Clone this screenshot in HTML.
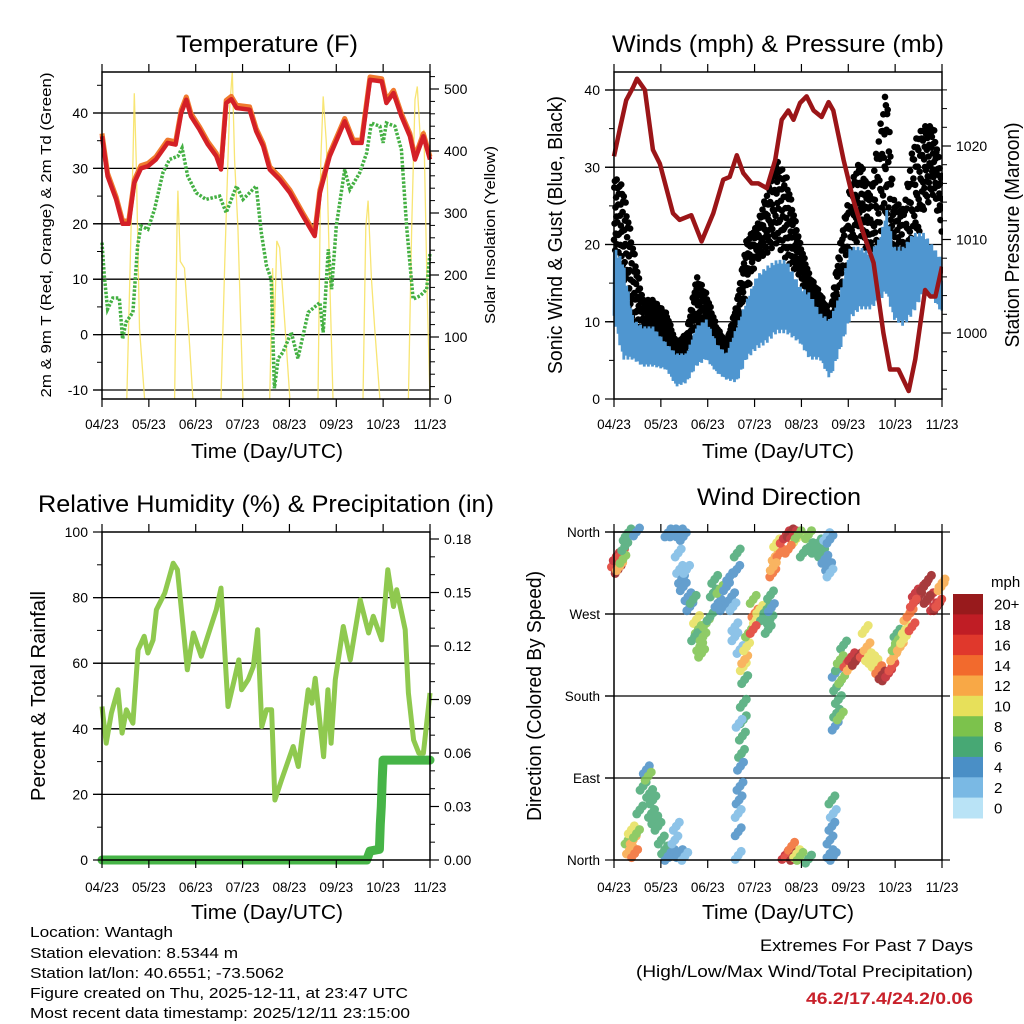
<!DOCTYPE html>
<html><head><meta charset="utf-8"><style>
body{margin:0;background:#fff}
svg{display:block;font-family:"Liberation Sans",Arial,sans-serif}
</style></head><body>
<svg id="fig" width="1024" height="1024" viewBox="0 0 1024 1024" xmlns="http://www.w3.org/2000/svg">
<rect width="1024" height="1024" fill="#fff"/>
<g id="root"></g>
<g font-size="15" fill="#000">
<text x="30" y="937" textLength="143" lengthAdjust="spacingAndGlyphs">Location: Wantagh</text>
<text x="30" y="958" textLength="208" lengthAdjust="spacingAndGlyphs">Station elevation: 8.5344 m</text>
<text x="30" y="978" textLength="254" lengthAdjust="spacingAndGlyphs">Station lat/lon: 40.6551; -73.5062</text>
<text x="30" y="998" textLength="378" lengthAdjust="spacingAndGlyphs">Figure created on Thu, 2025-12-11, at 23:47 UTC</text>
<text x="30" y="1018" textLength="380" lengthAdjust="spacingAndGlyphs">Most recent data timestamp: 2025/12/11 23:15:00</text>
</g>
<g font-size="17">
<text x="760" y="951" textLength="213" lengthAdjust="spacingAndGlyphs">Extremes For Past 7 Days</text>
<text x="636" y="977" textLength="337" lengthAdjust="spacingAndGlyphs">(High/Low/Max Wind/Total Precipitation)</text>
<text x="806" y="1004" textLength="167" lengthAdjust="spacingAndGlyphs" fill="#c8202a" font-weight="bold">46.2/17.4/24.2/0.06</text>
</g>
</svg>
<script>
// ---------- DATA ----------
const dayLabels = ["04/23","05/23","06/23","07/23","08/23","09/23","10/23","11/23"];
// Temperature (F), time in days
const tempT = [0,.12,.30,.44,.57,.69,.83,.98,1.15,1.40,1.57,1.69,1.80,1.90,2.08,2.26,2.44,2.54,2.65,2.76,2.87,3.15,3.29,3.44,3.58,3.79,4.01,4.29,4.54,4.65,4.86,5.18,5.36,5.54,5.72,5.97,6.07,6.22,6.39,6.57,6.68,6.86,7];
const tempV = [35.8,28.6,24.4,20,20,27.4,30,30.4,31.6,34.6,34.3,40,42.4,39.4,37,34.3,32.2,29.8,41.8,42.5,40.9,40.6,36.7,34,29.8,28,25.6,21.4,17.8,25.6,32.2,38.5,34.6,34.6,46,45.7,41.8,43.6,39.4,35.8,31.6,35.8,31.6];
const dewT = [0,.05,.12,.23,.37,.44,.51,.66,.76,.83,.98,1.12,1.30,1.44,1.62,1.71,1.83,2.01,2.22,2.51,2.65,2.87,3.01,3.29,3.40,3.51,3.61,3.68,3.76,3.86,4.04,4.18,4.40,4.65,4.72,4.83,4.90,5.00,5.18,5.29,5.50,5.65,5.75,5.93,6.00,6.07,6.25,6.39,6.50,6.64,6.79,6.93,7];
const dewV = [16.6,10.6,4.6,6.6,6.6,-0.8,2.2,4,16,19.6,19,22.6,29.2,31.6,32.2,33.7,28.6,25.6,24.4,25,22,26.8,24.4,26.8,18.4,12.4,10,-9.7,-4.3,-3.2,0.4,-4.3,4,5.8,0.4,15.4,8.2,19.6,29.8,26.2,29.2,32.8,38.2,37.6,34.6,38.2,37.6,33.4,19.6,6.4,7,8.2,14.8];
// Solar insolation (W/m2); null breaks the line between days
const solarT = [.53,.62,.66,.69,.73,.80,.91,null,1.55,1.60,1.62,1.67,1.76,1.87,1.94,null,2.54,2.62,2.72,2.78,2.83,2.90,3.01,null,3.58,3.64,3.68,3.73,3.79,3.86,4.01,null,4.61,4.67,4.72,4.79,4.86,4.93,null,5.57,5.63,5.68,5.75,5.82,5.93,null,6.54,6.61,6.68,6.73,6.80,6.87,6.94,7.0];
const solarV = [0,277,380,493,385,114,0,null,0,277,336,222,211,87,0,null,0,222,466,528,385,277,0,null,0,211,114,255,244,168,0,null,0,385,488,412,195,0,null,0,277,320,195,114,0,null,0,277,483,504,412,434,168,0];
// Winds (mph) & pressure (mb)
const windT = [0,.19,.41,.62,.83,1.12,1.33,1.55,1.76,1.97,2.19,2.40,2.62,2.83,3.04,3.26,3.47,3.68,3.97,4.18,4.40,4.61,4.83,5.04,5.25,5.47,5.68,5.82,5.97,6.18,6.39,6.61,6.82,7];
const windLow = [10.3,5.1,5.1,4.2,4.2,3.8,1.6,2.1,4.2,5.1,3.4,2.5,2.1,5.1,6.4,7.2,8.5,8.5,7.2,5.1,5.1,2.5,6.4,10.3,11.6,11.6,12.8,13.7,10.3,9.4,11.1,13.7,12.8,11.1];
const windHigh = [19.7,18,10.3,9.4,9.4,7.2,5.9,5.9,9.4,10.3,7.2,5.9,9.4,12.8,15.9,17.2,18,18,14.6,13.7,11.1,10.3,13.7,19.7,19.7,18.9,21,24.5,19.7,19.7,21.5,21.5,19.7,18];
const gustLow = [19.7,16.3,8.5,8.1,9.4,7.2,5.1,5.9,9.4,8.5,5.9,5.9,9.4,13.7,18,18.9,20.2,18,15.9,12,9.4,7.2,13.7,18,21.5,18,18.9,22.3,17.2,15.9,18,24.5,26.6,21.5];
const gustHigh = [28.8,27.5,19.7,12.8,12.8,11.1,7.2,8.5,15.9,13.7,9.4,7.2,12.4,20.6,22.3,26.6,30.9,28.8,20.2,15.9,13.7,11.1,20.2,27.5,30.9,26.6,35.3,40.4,25.8,24.5,33.1,35.3,35.3,28.8];
const presT = [0,.12,.26,.41,.49,.66,.83,.98,1.26,1.40,1.65,1.87,2.12,2.33,2.47,2.62,2.76,2.94,3.08,3.26,3.44,3.58,3.72,3.83,3.97,4.11,4.26,4.43,4.58,4.68,4.90,5.11,5.32,5.54,5.75,5.89,6.07,6.29,6.43,6.64,6.75,6.86,7];
const presV = [1018.9,1021.7,1024.9,1026.3,1027.2,1026,1019.6,1018.1,1012.8,1012.1,1012.6,1009.8,1012.8,1016.4,1016.7,1019,1017.1,1016,1016,1015.5,1018.5,1022.8,1023.8,1022.8,1024.6,1025.3,1023.8,1023.1,1024.7,1023.8,1018.5,1014.2,1010.7,1007.5,1000,996.1,996.1,993.8,997.2,1004.6,1003.9,1003.9,1007.1];
// Relative humidity (%) & precipitation (in)
const rhT = [0,.09,.20,.34,.43,.52,.66,.77,.90,.98,1.09,1.16,1.34,1.52,1.61,1.73,1.82,1.95,2.12,2.30,2.44,2.54,2.69,2.84,2.92,2.98,3.12,3.23,3.32,3.41,3.51,3.62,3.69,3.83,4.08,4.19,4.30,4.40,4.48,4.55,4.73,4.82,4.89,4.98,5.15,5.30,5.51,5.69,5.79,5.97,6.10,6.22,6.29,6.47,6.54,6.65,6.76,6.86,7];
const rhV = [46.8,35.6,44.8,51.9,38.7,45.8,41.7,64.1,68.2,63.1,67.1,76.3,81.4,90.5,88.5,71.2,58,69.2,62.1,70.2,76.3,82.9,46.8,56,61,51.9,55,59,70.2,40.7,45.8,45.8,18.3,24.4,34.6,28.5,40.7,51.9,47.8,55.4,31.5,51.9,35.6,55,71.2,61,79.3,69.2,74.3,67.1,88.5,77.3,82.4,70.2,50.9,36.6,32.6,32.6,50.9];
const precipT = [0,5.65,5.72,5.92,5.94,5.96,5.98,6.0,7];
const precipV = [0,0,0.005,0.006,0.02,0.03,0.045,0.056,0.056];
// Wind direction (deg), speed (mph)
const dirT = [.01,.05,.09,.12,.16,.19,.23,.26,.30,.48,.30,.33,.37,.41,.44,.48,.55,.62,.69,.73,.76,.80,.83,.87,.94,1.01,1.08,1.15,1.23,1.30,1.33,1.40,1.51,1.15,1.26,1.40,1.48,1.37,1.40,1.44,1.48,1.55,1.58,1.62,1.69,1.76,1.80,1.72,1.83,1.90,1.97,2.05,1.87,2.12,2.15,2.22,2.26,2.33,2.40,2.47,2.51,2.54,2.62,2.58,2.58,2.63,2.69,2.76,2.79,2.83,2.87,2.79,2.76,2.76,2.67,2.74,2.72,2.70,2.69,2.67,2.65,2.65,2.65,2.97,3.01,3.04,3.11,3.19,3.26,3.33,3.29,3.34,2.97,3.36,3.39,3.44,3.47,3.54,3.61,3.68,3.76,3.83,3.90,3.93,3.72,3.40,4.04,4.15,4.18,4.29,4.36,4.43,4.50,4.54,4.61,4.58,4.61,3.65,3.72,3.79,3.83,3.90,3.97,4.15,4.68,4.65,4.61,4.61,4.65,4.68,4.72,4.75,4.83,4.79,4.75,4.72,4.79,4.86,4.90,4.83,4.97,5.04,5.07,5.15,5.22,5.32,5.36,5.40,5.43,5.50,5.57,5.65,5.72,5.79,5.86,5.93,5.97,6.00,6.04,6.07,6.11,6.18,6.22,6.25,6.32,6.36,6.43,6.50,6.54,6.61,6.71,6.75,6.82,6.89,6.93,6.98,7.0,6.39,6.68];
const dirV = [326,333,319,322,337,330,344,355,359,360,22,11,33,22,7,29,55,81,99,92,73,51,66,44,37,22,11,4,7,22,37,7,4,359,359,359,355,337,319,308,300,319,289,278,286,264,253,245,234,245,260,267,227,293,308,282,297,278,300,311,289,278,319,256,245,337,231,212,220,234,249,198,172,154,150,136,117,103,81,66,51,31,5,286,271,264,275,267,275,264,253,291,253,277,315,333,348,337,352,357,359,357,353,357,341,322,337,357,344,341,348,337,330,355,352,322,315,5,7,15,4,7,4,1,51,37,22,7,66,4,147,161,158,176,190,205,212,198,236,220,216,212,223,218,223,227,253,234,223,220,216,209,203,201,205,212,223,234,249,242,234,242,253,267,271,256,293,289,297,300,308,289,278,278,282,300,304,282,286];
const dirS = [16,18,20,12,16,8,6,6,6,4,8,12,10,12,14,8,6,6,4,8,6,6,6,6,6,6,6,4,4,2,2,4,2,4,4,4,4,2,2,4,4,2,4,4,6,10,8,6,8,8,8,6,8,6,6,4,8,4,4,4,4,2,4,2,2,6,2,10,12,10,8,6,6,6,2,6,6,4,4,4,2,4,2,8,14,10,10,6,6,6,6,6,16,4,14,12,10,14,16,18,20,18,10,8,14,12,6,8,6,6,6,6,4,2,4,4,2,18,16,14,20,10,8,6,2,4,4,4,6,4,4,6,8,6,6,4,6,8,6,8,16,12,18,20,20,16,10,12,10,10,10,14,20,20,18,16,12,8,6,8,12,10,10,12,14,16,18,20,18,20,20,18,18,20,16,12,12,16,20];
const speedBins = ["0","2","4","6","8","10","12","14","16","18","20+"];
const binColors = ["#b9e3f6","#7ab9e4","#4a8fc6","#47a874","#7cc24c","#e7e05a","#f8a846","#f26a2d","#e0382c","#c01d25","#981a1c"];

// ---------- DRAWING ----------
const NS="http://www.w3.org/2000/svg";
const root=document.getElementById('root');
function el(tag,attrs,parent){const e=document.createElementNS(NS,tag);for(const k in attrs)e.setAttribute(k,attrs[k]);(parent||root).appendChild(e);return e;}
function txt(s,attrs,parent){const e=el('text',attrs,parent);e.textContent=s;return e;}
function lin(d0,d1,p0,p1){return v=>p0+(v-d0)/(d1-d0)*(p1-p0);}
function pathFrom(ts,vs,X,Y){let d="",pen=false;for(let i=0;i<ts.length;i++){if(ts[i]===null||vs[i]===null){pen=false;continue;}d+=(pen?"L":"M")+X(ts[i]).toFixed(1)+","+Y(vs[i]).toFixed(1);pen=true;}return d;}
function interp(ts,vs,t){for(let i=1;i<ts.length;i++){if(t<=ts[i]){const f=(t-ts[i-1])/(ts[i]-ts[i-1]);return vs[i-1]+f*(vs[i]-vs[i-1]);}}return vs[vs.length-1];}

function frame(g,x0,x1,y0,y1){
  el('rect',{x:x0,y:y0,width:x1-x0,height:y1-y0,fill:'none',stroke:'#000','stroke-width':1.5},g);
}
function xAxis(g,X,y0,y1,labelY){
  for(let d=0;d<=7;d++){
    const x=X(d);
    el('line',{x1:x,x2:x,y1:y1,y2:y1+8,stroke:'#000','stroke-width':1.2},g);
    el('line',{x1:x,x2:x,y1:y0,y2:y0-8,stroke:'#000','stroke-width':1.2},g);
    const t=txt(dayLabels[d],{x:x,y:labelY,'font-size':13.5,'text-anchor':'middle'},g);
    
    
  }
}
function yTicks(g,Y,vals,x,side,labels,fs,minor){
  const dir=side==='left'?-1:1;
  (minor||[]).forEach(v=>el('line',{x1:x,x2:x+dir*5,y1:Y(v),y2:Y(v),stroke:'#000','stroke-width':1},g));
  vals.forEach((v,i)=>{
    el('line',{x1:x,x2:x+dir*9,y1:Y(v),y2:Y(v),stroke:'#000','stroke-width':1.2},g);
    const t=txt(labels[i],{x:x+dir*14,y:Y(v)+5,'font-size':fs||14,'text-anchor':side==='left'?'end':'start'},g);
    
    
  });
}
function rotLabel(g,s,x,y,fs,len){
  const t=txt(s,{x:0,y:0,'font-size':fs,'text-anchor':'middle',transform:`translate(${x},${y}) rotate(-90)`},g);
  if(len){t.setAttribute('textLength',len);t.setAttribute('lengthAdjust','spacingAndGlyphs');}
  return t;
}
function title(g,s,x,y,len){const t=txt(s,{x:x,y:y,'font-size':24,'text-anchor':'middle',textLength:len,lengthAdjust:'spacingAndGlyphs'},g);return t;}
function range(a,b,s){const r=[];for(let v=a;v<=b+1e-9;v+=s)r.push(+v.toFixed(4));return r;}

// ===== Panel 1: Temperature =====
(function(){
  const g=el('g',{});
  
  
  const x0=102,x1=430,y0=72,y1=399;
  const X=lin(0,7,x0,x1), Y=lin(40,-10,113,390), Ys=lin(0,500,399,89);
  [-10,0,10,20,30,40].forEach(v=>{const l=el('line',{x1:x0-9,x2:x1,y1:Y(v),y2:Y(v),stroke:'#000','stroke-width':1.3},g);});
  const sol=el('path',{d:pathFrom(solarT,solarV,X,Ys),fill:'none',stroke:'#f7e05a','stroke-width':1.3,opacity:0.85},g);
  
  
  const o=el('path',{d:pathFrom(tempT,tempV.map(v=>v+0.5),X,Y),fill:'none',stroke:'#f07a2e','stroke-width':5,'stroke-linejoin':'round'},g);
  
  
  const r=el('path',{d:pathFrom(tempT,tempV,X,Y),fill:'none',stroke:'#d42027','stroke-width':4.5,'stroke-linejoin':'round'},g);
  
  
  const gr=el('path',{d:pathFrom(dewT,dewV,X,Y),fill:'none',stroke:'#44b043','stroke-width':3.5,'stroke-dasharray':'2.5 1.6'},g);
  
  
  frame(g,x0,x1,y0,y1);
  xAxis(g,X,y0,y1,429);
  yTicks(g,Y,[-10,0,10,20,30,40],x0,'left',['-10','0','10','20','30','40'],14,range(-10,45,5));
  yTicks(g,Ys,[0,100,200,300,400,500],x1,'right',['0','100','200','300','400','500'],14,range(0,520,20));
  title(g,'Temperature (F)',267,52,182);
  const xt=txt('Time (Day/UTC)',{x:267,y:458,'font-size':20,'text-anchor':'middle',textLength:152,lengthAdjust:'spacingAndGlyphs'},g);
  
  
  rotLabel(g,'2m & 9m T (Red, Orange) & 2m Td (Green)',51,235,15,325);
  rotLabel(g,'Solar Insolation (Yellow)',495,235,15,178);
})();

// ===== Panel 2: Winds & Pressure =====
(function(){
  const g=el('g',{});
  
  
  const x0=614,x1=942,y0=72,y1=399;
  const X=lin(0,7,x0,x1), Y=lin(0,40,399,90), Yp=lin(1000,1020,333,146);
  [10,20,30,40].forEach(v=>{const l=el('line',{x1:x0-9,x2:x1,y1:Y(v),y2:Y(v),stroke:'#000','stroke-width':1.3},g);});
  const pat=[0.1,0.85,0.35,0.95,0.0,0.6,0.25,0.75,0.5,1.0,0.15,0.45,0.9,0.3,0.7];
  const gg=el('g',{fill:'#000'},g);
  
  
  const M=1100;
  for(let i=0;i<=M;i++){const t=i/M*7;const lo=interp(windT,gustLow,t),hi=interp(windT,gustHigh,t);const v=lo+(hi-lo)*pat[i%pat.length];el('circle',{cx:X(t).toFixed(1),cy:Y(v).toFixed(1),r:3.3},gg);}
  const bp=[0.05,0.95,0.2,0.7,0.0,1.0,0.35,0.85,0.1,0.6];
  const N=800;const bt=[],bv=[];
  for(let i=0;i<=N;i++){const t=i/N*7;const lo=interp(windT,windLow,t),hi=interp(windT,windHigh,t);bt.push(t);bv.push(lo+(hi-lo)*bp[i%bp.length]);}
  const bl=el('path',{d:pathFrom(bt,bv,X,Y),fill:'none',stroke:'#4f96d0','stroke-width':2.8},g);
  
  
  const pr=el('path',{d:pathFrom(presT,presV,X,Yp),fill:'none',stroke:'#9b1518','stroke-width':4.5,'stroke-linejoin':'round'},g);
  
  
  el('rect',{x:x1+1,y:y0-10,width:60,height:y1-y0+20,fill:'#fff'},g);
  frame(g,x0,x1,y0,y1);
  xAxis(g,X,y0,y1,429);
  yTicks(g,Y,[0,10,20,30,40],x0,'left',['0','10','20','30','40'],14,range(0,42,5));
  yTicks(g,Yp,[1000,1010,1020],x1,'right',['1000','1010','1020'],14,range(994,1026,2));
  title(g,'Winds (mph) & Pressure (mb)',778,52,332);
  const xt=txt('Time (Day/UTC)',{x:778,y:458,'font-size':20,'text-anchor':'middle',textLength:152,lengthAdjust:'spacingAndGlyphs'},g);
  
  
  rotLabel(g,'Sonic Wind & Gust (Blue, Black)',562,235,20,278);
  rotLabel(g,'Station Pressure (Maroon)',1019,235,20,225);
})();

// ===== Panel 3: RH & Precip =====
(function(){
  const g=el('g',{});
  
  
  const x0=102,x1=430,y0=532,y1=860;
  const X=lin(0,7,x0,x1), Y=lin(0,100,860,532), Yp=lin(0,0.18,860,539);
  [20,40,60,80].forEach(v=>{const l=el('line',{x1:x0-9,x2:x1,y1:Y(v),y2:Y(v),stroke:'#000','stroke-width':1.3},g);});
  const rh=el('path',{d:pathFrom(rhT,rhV,X,Y),fill:'none',stroke:'#8fc94f','stroke-width':5,'stroke-linejoin':'round'},g);
  
  
  const pc=el('path',{d:pathFrom(precipT,precipV,X,Yp),fill:'none',stroke:'#46b447','stroke-width':9,'stroke-linecap':'round','stroke-linejoin':'round'},g);
  
  
  frame(g,x0,x1,y0,y1);
  xAxis(g,X,y0,y1,892);
  yTicks(g,Y,[0,20,40,60,80,100],x0,'left',['0','20','40','60','80','100'],14,range(0,100,10));
  yTicks(g,Yp,[0,0.03,0.06,0.09,0.12,0.15,0.18],x1,'right',['0.00','0.03','0.06','0.09','0.12','0.15','0.18'],14,range(0,0.18,0.01));
  title(g,'Relative Humidity (%) & Precipitation (in)',266,512,456);
  const xt=txt('Time (Day/UTC)',{x:267,y:919,'font-size':20,'text-anchor':'middle',textLength:152,lengthAdjust:'spacingAndGlyphs'},g);
  
  
  rotLabel(g,'Percent & Total Rainfall',45,696,20,210);
})();

// ===== Panel 4: Wind direction =====
(function(){
  const g=el('g',{});
  
  
  const x0=614,x1=942,y0=532,y1=860;
  const X=lin(0,7,x0,x1), Y=lin(0,360,860,532);
  [90,180,270,360].forEach(v=>{const l=el('line',{x1:x0-9,x2:x1,y1:Y(v),y2:Y(v),stroke:'#000','stroke-width':1.3},g);});
  const pg=el('g',{opacity:0.85},g);
  
  
  const jit=[[0,0],[3,-4],[-3,4]];
  for(let i=0;i<dirT.length;i++){
    const b=Math.min(10,Math.round(dirS[i]/2));
    for(const j of jit){
      const c=el('circle',{cx:(X(dirT[i])+j[0]).toFixed(1),cy:(Y(dirV[i])+j[1]).toFixed(1),r:4.5,fill:binColors[b]},pg);
      
      
    }
  }
  frame(g,x0,x1,y0,y1);
  xAxis(g,X,y0,y1,892);
  yTicks(g,Y,[0,90,180,270,360],x0,'left',['North','East','South','West','North'],13.5,[]);
  [0,90,180,270,360].forEach(v=>el('line',{x1:x1,x2:x1+8,y1:Y(v),y2:Y(v),stroke:'#000','stroke-width':1.2},g));
  title(g,'Wind Direction',779,505,164);
  const xt=txt('Time (Day/UTC)',{x:778,y:919,'font-size':20,'text-anchor':'middle',textLength:152,lengthAdjust:'spacingAndGlyphs'},g);
  
  
  rotLabel(g,'Direction (Colored By Speed)',541,696,20,250);
  const cb=el('g',{},g);
  
  
  const h=224/speedBins.length;
  const mt=txt('mph',{x:991,y:587,'font-size':15},cb);
  
  
  for(let k=0;k<speedBins.length;k++){
    const idx=speedBins.length-1-k;
    el('rect',{x:953,y:(594+k*h).toFixed(1),width:30,height:(h+0.5).toFixed(1),fill:binColors[idx]},cb);
    const t=txt(speedBins[idx],{x:994,y:(594+k*h+h/2+5.5).toFixed(1),'font-size':15},cb);
    
    
  }
})();
</script>
</body></html>
